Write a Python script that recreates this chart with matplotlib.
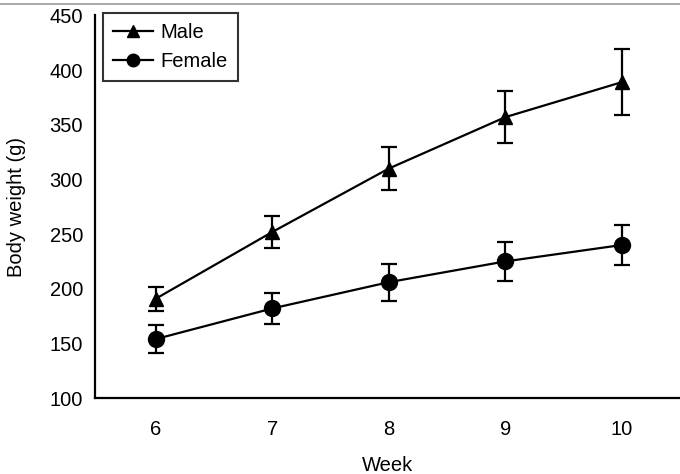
import matplotlib
matplotlib.use("Agg")
import matplotlib.pyplot as plt
from matplotlib.lines import Line2D

plt.rcParams['font.family'] = ['Liberation Sans', 'DejaVu Sans']

# data
weeks = [6, 7, 8, 9, 10]
male = [191, 252, 310, 357, 389]
male_err = [11, 15, 20, 24, 30]
female = [154, 182, 206, 225, 240]
female_err = [13, 14, 17, 18, 18]

fs = 14.5

fig = plt.figure(figsize=(6.8, 4.74), dpi=100)
ax = fig.add_axes([0.1404, 0.1603, 0.8596, 0.807])

m = ax.errorbar(weeks, male, yerr=male_err, color='black', marker='^', markersize=10.5,
                linewidth=1.6, elinewidth=1.6, capsize=5.5, capthick=1.6)
f = ax.errorbar(weeks, female, yerr=female_err, color='black', marker='o', markersize=11.5,
                linewidth=1.6, elinewidth=1.6, capsize=5.5, capthick=1.6)

ax.set_xlim(5.48, 10.5)
ax.set_ylim(100, 450)
ax.set_xticks(weeks)
ax.set_yticks(range(100, 451, 50))
ax.tick_params(axis='both', length=0, labelsize=fs)
ax.tick_params(axis='y', pad=9)
ax.tick_params(axis='x', pad=16)
ax.spines['top'].set_visible(False)
ax.spines['right'].set_visible(False)
ax.spines['left'].set_linewidth(1.6)
ax.spines['bottom'].set_linewidth(1.6)

ax.set_xlabel('Week', fontsize=fs, labelpad=12)
ax.set_ylabel('Body weight (g)', fontsize=fs, labelpad=17)

handles = [Line2D([], [], color='black', marker='^', markersize=8, linewidth=1.6),
           Line2D([], [], color='black', marker='o', markersize=9, linewidth=1.6)]
leg = ax.legend(handles, ['Male', 'Female'], loc='upper left', fontsize=fs,
                frameon=True, fancybox=False, edgecolor='black', borderaxespad=0,
                handlelength=2.0, handletextpad=0.35, labelspacing=0.5,
                borderpad=0.5, bbox_to_anchor=(7.5 / 584.5, 1 + 2.5 / 382.5))
leg.get_frame().set_linewidth(1.5)

# thin gray rule at the very top of the image
fig.add_artist(Line2D([0, 1], [1 - 3.5 / 474, 1 - 3.5 / 474], color='#999999',
                      linewidth=1.2, transform=fig.transFigure))

fig.savefig('out.png', dpi=100)
